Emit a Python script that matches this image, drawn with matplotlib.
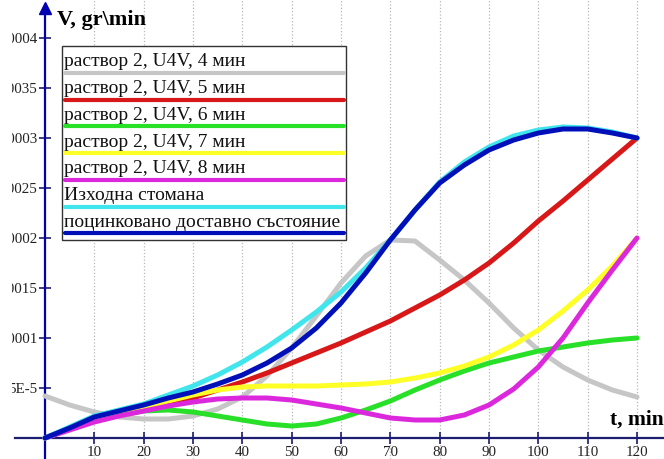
import numpy as np
import matplotlib
matplotlib.use('Agg')
import matplotlib.pyplot as plt
from matplotlib.patches import Rectangle
from matplotlib.lines import Line2D
from matplotlib.ticker import FixedLocator, FixedFormatter

plt.rcParams['font.family'] = ['Liberation Serif', 'DejaVu Serif']

# time, min
t = [0, 5, 10, 15, 20, 25, 30, 35, 40, 45, 50, 55, 60,
     65, 70, 75, 80, 85, 90, 95, 100, 105, 110, 115, 120]

# corrosion rate, 1e-6 gr/min
v_4min = [42, 33, 26, 21, 19, 19, 22, 29, 41, 62, 90, 122, 155,
          182, 198, 197, 178, 158, 135, 110, 88, 71, 58, 48, 41]
v_5min = [0, 9, 17, 23, 28, 34, 40, 48, 56, 65, 75, 85, 95,
          106, 117, 130, 143, 158, 175, 195, 217, 237, 258, 279, 300]
v_6min = [0, 9, 17, 23, 27, 28, 26, 22, 18, 14, 12, 14, 20,
          28, 37, 48, 58, 67, 75, 81, 87, 91, 95, 98, 100]
v_7min = [0, 9, 17, 24, 30, 37, 43, 48, 51, 52, 52, 52, 53,
          54, 56, 60, 65, 72, 81, 93, 108, 127, 148, 172, 200]
v_8min = [0, 8, 16, 22, 27, 32, 36, 39, 40, 40, 38, 34, 30,
          25, 20, 18, 18, 23, 33, 49, 71, 100, 135, 168, 200]
v_steel = [0, 11, 22, 28, 34, 43, 52, 63, 76, 91, 108, 126, 146,
           170, 198, 228, 256, 276, 291, 302, 308, 311, 310, 306, 300]
v_galv = [0, 10, 21, 27, 33, 40, 46, 54, 63, 75, 90, 110, 135,
          165, 198, 228, 255, 273, 288, 298, 305, 309, 309, 305, 300]

labels = ['раствор 2, U4V, 4 мин', 'раствор 2, U4V, 5 мин', 'раствор 2, U4V, 6 мин',
          'раствор 2, U4V, 7 мин', 'раствор 2, U4V, 8 мин', 'Изходна стомана',
          'поцинковано доставно състояние']
series = [v_4min, v_5min, v_6min, v_7min, v_8min, v_steel, v_galv]
colors = ['#c6c6c6', '#d81818', '#28e028', '#ffff28', '#dc28dc', '#40e6ec', '#0010b8']

x_ticks = [10, 20, 30, 40, 50, 60, 70, 80, 90, 100, 110, 120]
y_ticks = [5e-5, 1e-4, 1.5e-4, 2e-4, 2.5e-4, 3e-4, 3.5e-4, 4e-4]
y_tick_labels = ['5E-5', '0.0001', '0.00015', '0.0002', '0.00025', '0.0003', '0.00035', '0.0004']

W, H = 664, 459
fig = plt.figure(figsize=(W / 100, H / 100), dpi=100)
ax = fig.add_axes([0, 0, 1, 1])

# pixel -> axes fraction
def px(x, y):
    return x / W, 1 - y / H

x0, xs = 45, 592 / 120.0       # x=0 at 45 px, 120 at 637 px
y0, ys = 438, 1e6              # y=0 at 438 px, 50 px per 5E-5
ax.set_xlim(-x0 / xs, (W - x0) / xs)
ax.set_ylim(-(H - y0) / ys, y0 / ys)

tt = np.array(t)
for vals, col, lab in zip(series, colors, labels):
    ax.plot(tt, np.array(vals) * 1e-6, color=col, lw=3.6, solid_capstyle='round',
            solid_joinstyle='round', label=lab, zorder=3)

# axes through the origin
for side in ['top', 'right']:
    ax.spines[side].set_visible(False)
ax.spines['left'].set_position(('data', 0))
ax.spines['bottom'].set_position(('data', 0))
ax.spines['left'].set_color('#0000b0')
ax.spines['left'].set_linewidth(1.6)
ax.spines['left'].set_bounds(-(H - y0) / ys, (y0 - 10) / ys)
ax.spines['bottom'].set_color('#1c1c70')
ax.spines['bottom'].set_linewidth(1.6)
ax.spines['bottom'].set_bounds(-(x0 - 15) / xs, (W - x0) / xs)
ax.plot(0, (y0 - 8) / ys, marker='^', ms=9, color='#0000b0', clip_on=False, zorder=4)

ax.xaxis.set_major_locator(FixedLocator(x_ticks))
ax.yaxis.set_major_locator(FixedLocator(y_ticks))
ax.yaxis.set_major_formatter(FixedFormatter(y_tick_labels))
ax.tick_params(axis='both', direction='inout', length=9, width=1.2,
               colors='#1c1c70', labelcolor='#222222', labelsize=10.8, pad=1)

ax.grid(axis='x', color='#b8b8b8', linestyle=':', lw=0.9)
ax.set_axisbelow(True)

# the left margin hides the leading digits of the tick labels
fig.add_artist(Rectangle((0, 0), 12 / W, 1, transform=fig.transFigure,
                         fc='white', ec='none', zorder=10))

ax.text(*px(57, 20), 'V, gr\\min', transform=ax.transAxes, fontsize=16,
        fontweight='bold', va='center', ha='left')
ax.text(*px(610, 420), 't, min', transform=ax.transAxes, fontsize=15.5,
        fontweight='bold', va='center', ha='left')

# legend: label with its colour strip underneath
lx0, lx1, ly0, ly1 = 62, 346, 46, 240
bx, by = px(lx0, ly1)
ax.add_patch(Rectangle((bx, by), (lx1 - lx0) / W, (ly1 - ly0) / H,
                       transform=ax.transAxes, fc='white', ec='#333333',
                       lw=1, zorder=6, clip_on=False))
for i, (lab, col) in enumerate(zip(labels, colors)):
    line_y = 73 + i * 26.7
    ax.text(*px(64, line_y - 11), lab, transform=ax.transAxes, fontsize=14,
            va='center', ha='left', color='#111111', zorder=7)
    xa, ya = px(65, line_y)
    xb, _ = px(344, line_y)
    ax.add_line(Line2D([xa, xb], [ya, ya], transform=ax.transAxes, color=col,
                       lw=3, solid_capstyle='round', zorder=7, clip_on=False))

fig.savefig('out.png', dpi=100)
